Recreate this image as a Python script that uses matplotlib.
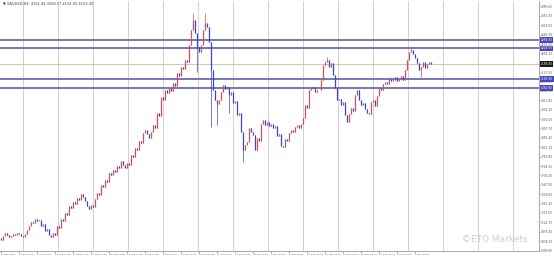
import numpy as np
import matplotlib
matplotlib.use("Agg")
import matplotlib.pyplot as plt

# H4-style closes (one value per plotted bar)
closes = [
    3443, 3459, 3471, 3463, 3455, 3459, 3467, 3463, 3471, 3467, 3459, 3455,
    3467, 3485, 3498, 3516, 3510, 3528, 3520, 3524, 3500, 3506, 3479, 3487,
    3462, 3455, 3470, 3464, 3500, 3493, 3528, 3520, 3553, 3545, 3581, 3574,
    3597, 3590, 3614, 3606, 3630, 3618, 3600, 3581, 3569, 3585, 3577, 3610,
    3634, 3625, 3667, 3659, 3687, 3680, 3716, 3708, 3728, 3722, 3744, 3738,
    3764, 3748, 3736, 3756, 3749, 3789, 3780, 3817, 3808, 3846, 3838, 3878,
    3891, 3874, 3858, 3882, 3911, 3901, 3960, 3950, 4025, 4015, 4053, 4044,
    4062, 4052, 4082, 4072, 4123, 4112, 4147, 4140, 4176, 4168, 4237, 4298,
    4339, 4286, 4229, 4208, 4237, 4298, 4330, 4310, 4249, 4135, 4053, 4013,
    3997, 4013, 4045, 4074, 4060, 4068, 4033, 4045, 4001, 4010, 3952, 3960,
    3882, 3809, 3830, 3842, 3899, 3885, 3870, 3809, 3858, 3847, 3915, 3931,
    3911, 3925, 3907, 3915, 3899, 3908, 3866, 3875, 3825, 3821, 3854, 3845,
    3878, 3891, 3884, 3903, 3912, 3899, 3915, 3940, 3992, 3983, 4053, 4066,
    4062, 4045, 4055, 4053, 4094, 4155, 4168, 4176, 4147, 4163, 4115, 4062,
    4013, 4020, 3992, 4004, 3952, 3923, 3956, 3980, 3970, 4033, 4053, 4013,
    3992, 4003, 3976, 3960, 3956, 4005, 4013, 3988, 4029, 4062, 4055, 4078,
    4086, 4080, 4098, 4090, 4094, 4106, 4092, 4098, 4110, 4096, 4135, 4176,
    4208, 4216, 4200, 4184, 4163, 4135, 4147, 4168, 4143, 4159, 4168, 4159,
]
first_open = 3450

# notable wicks (bar index -> extreme)
wick_hi_idx = [96, 102, 163, 205]
wick_hi_val = [4367, 4371, 4188, 4229]
wick_lo_idx = [98, 105, 108, 114, 121, 210]
wick_lo_val = [4127, 3903, 3911, 3960, 3760, 4102]

levels = [4258.30, 4224.50, 4100.30, 4062.90]
bid = 4159.40

date_labels = ["1 Sep 2025", "4 Sep 00:00", "9 Sep 00:00", "12 Sep 00:00",
               "17 Sep 00:00", "22 Sep 00:00", "25 Sep 00:00", "30 Sep 00:00",
               "3 Oct 00:00", "8 Oct 00:00", "13 Oct 00:00", "16 Oct 00:00",
               "21 Oct 00:00", "24 Oct 00:00", "29 Oct 00:00", "3 Nov 00:00",
               "6 Nov 00:00", "11 Nov 00:00", "14 Nov 00:00", "19 Nov 00:00",
               "24 Nov 00:00", "27 Nov 00:00", "2 Dec 00:00", "5 Dec 00:00"]

y_top, y_bot = 4420, 3400
tick_start, tick_step, n_ticks = 4395.60, 38.30, 27

BULL = "#d4505e"
BEAR = "#3e46c8"
LEVEL = "#6c6cb2"

closes = np.array(closes, dtype=float)
opens = np.concatenate([[first_open], closes[:-1]])
highs = np.maximum(opens, closes)
lows = np.minimum(opens, closes)
highs[wick_hi_idx] = wick_hi_val
lows[wick_lo_idx] = wick_lo_val
idx = np.arange(len(closes))
up = closes >= opens

W, H = 554, 258
fig = plt.figure(figsize=(W / 100, H / 100), dpi=100)
ax = fig.add_axes([0, 7.5 / H, 539 / W, 1 - 8 / H])
ax.set_xlim(-0.5, 269)
ax.set_ylim(y_bot, y_top)

# vertical grid, every 35 px
for px in np.arange(23.3, 530, 35.0):
    ax.axvline((px - 1) / 2, color="#cacaca", lw=0.6, zorder=0)

ax.axhline(bid, color="#c3c0a8", lw=0.6, zorder=1)
for lv in levels:
    ax.axhline(lv, color=LEVEL, lw=1.3, zorder=2)

ax.vlines(idx, lows, highs, colors=np.where(up, BULL, BEAR), lw=0.5, zorder=3)
ax.vlines(idx, opens, closes, colors=np.where(up, BULL, BEAR), lw=0.9, zorder=4)

# axes styling
for s in ["left", "top"]:
    ax.spines[s].set_visible(False)
for s in ["right", "bottom"]:
    ax.spines[s].set_color("#9a9a9a")
    ax.spines[s].set_linewidth(0.6)

yt = tick_start - tick_step * np.arange(n_ticks)
ax.yaxis.tick_right()
ax.set_yticks(yt)
ax.set_yticklabels(["%.2f" % v for v in yt])
ax.tick_params(axis="y", labelsize=2.1, length=1.0, width=0.4, pad=0.5,
               colors="#555555")

xt = np.arange(len(date_labels)) * 9
ax.set_xticks(xt)
ax.set_xticklabels(date_labels, ha="left")
ax.tick_params(axis="x", labelsize=1.7, length=1.5, width=0.4, pad=0.8,
               colors="#555555")

# price boxes on the right scale
for lv in levels:
    ax.text(1.003, lv, "%.2f" % lv, transform=ax.get_yaxis_transform(),
            fontsize=2.1, color="white", va="center", ha="left", zorder=10,
            bbox=dict(boxstyle="square,pad=0.3", fc="#4848b8", ec="none"),
            clip_on=False)
ax.text(1.003, bid, "%.2f" % bid, transform=ax.get_yaxis_transform(),
        fontsize=2.1, color="white", va="center", ha="left", zorder=10,
        bbox=dict(boxstyle="square,pad=0.3", fc="#1a1a1a", ec="none"),
        clip_on=False)

fig.text(3 / W, 1 - 3.5 / H, "\u25bc XAUUSD,H4  4161.84 4168.17 4154.92 4159.40",
         fontsize=2.6, color="#444444", va="center", ha="left")
fig.text(462 / W, 1 - 240 / H, "\u00a9ETO Markets", fontsize=6.5,
         color="#cfcfcf", va="center", ha="left")

fig.savefig("out.png", dpi=100, facecolor="white")
